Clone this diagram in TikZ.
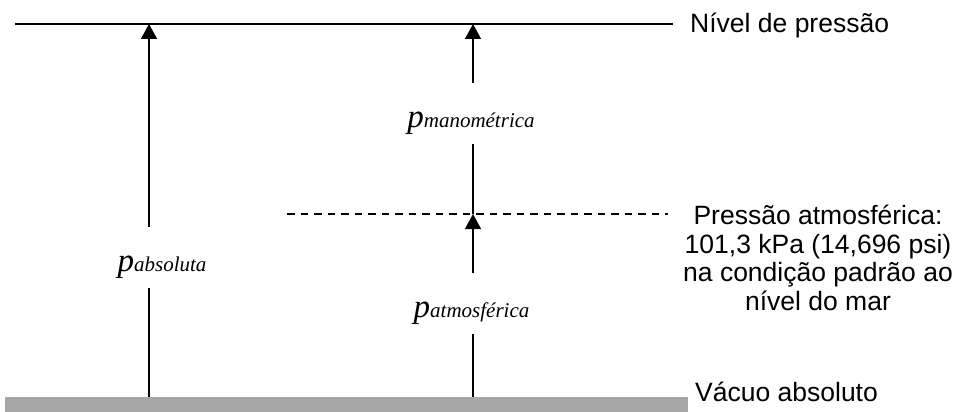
\documentclass[tikz,border=0pt]{standalone}
\usepackage{fontspec}
\setmainfont{Liberation Sans}
\newfontfamily\serifit{Liberation Serif}
\usetikzlibrary{arrows.meta}
\definecolor{barcol}{HTML}{A6A6A6}
\tikzset{
  arr/.style={line width=1.3pt,-{Triangle[width=16pt,length=15pt]}},
  vline/.style={line width=1.3pt},
  lbl/.style={anchor=base,inner sep=0pt,text height=44pt,text depth=17pt},
  sans/.style={font=\fontsize{26.5}{28.5}\selectfont,inner sep=0pt}
}
\newcommand{\plabel}[1]{{\serifit\itshape\fontsize{33}{33}\selectfont p}{\serifit\itshape\fontsize{21}{21}\selectfont #1}}
\begin{document}
\begin{tikzpicture}[x=1pt,y=-1pt]
\useasboundingbox (0,0) rectangle (958,412);
% levels
\coordinate (tl) at (15,24);
\coordinate (tr) at (673,24);
\coordinate (dl) at (287,214);
\coordinate (dr) at (668,214);
\coordinate (tA) at (149,24);
\coordinate (bA) at (149,397);
\coordinate (tM) at (473,24);
\coordinate (dM) at (473,214);
\coordinate (bM) at (473,397);
\fill[barcol] (5,397) rectangle (688,412);
\draw[line width=2pt] (tl) -- (tr);
\draw[line width=1.2pt,dash pattern=on 7.5pt off 6pt] (dl) -- (dr);
% labels
\node[lbl] (abs) at (162,271) {\plabel{absoluta}};
\node[lbl] (man) at (471,127) {\plabel{manométrica}};
\node[lbl] (atm) at (471.5,317) {\plabel{atmosférica}};
% connectors
\draw[arr] (abs.north -| tA) -- (tA);
\draw[vline] (abs.south -| bA) -- (bA);
\draw[arr] (man.north -| tM) -- (tM);
\draw[vline] (man.south -| dM) -- (dM);
\draw[arr] (atm.north -| dM) -- (dM);
\draw[vline] (atm.south -| bM) -- (bM);
% side texts
\node[sans,anchor=base west] (nivel) at (690,33) {Nível de pressão};
\node[sans,anchor=base,align=center] (patm) at (818,310) {Pressão atmosférica:\\101,3 kPa (14,696 psi)\\na condição padrão ao\\nível do mar};
\node[sans,anchor=base west] (vacuo) at (695,401) {Vácuo absoluto};
\end{tikzpicture}
\end{document}
